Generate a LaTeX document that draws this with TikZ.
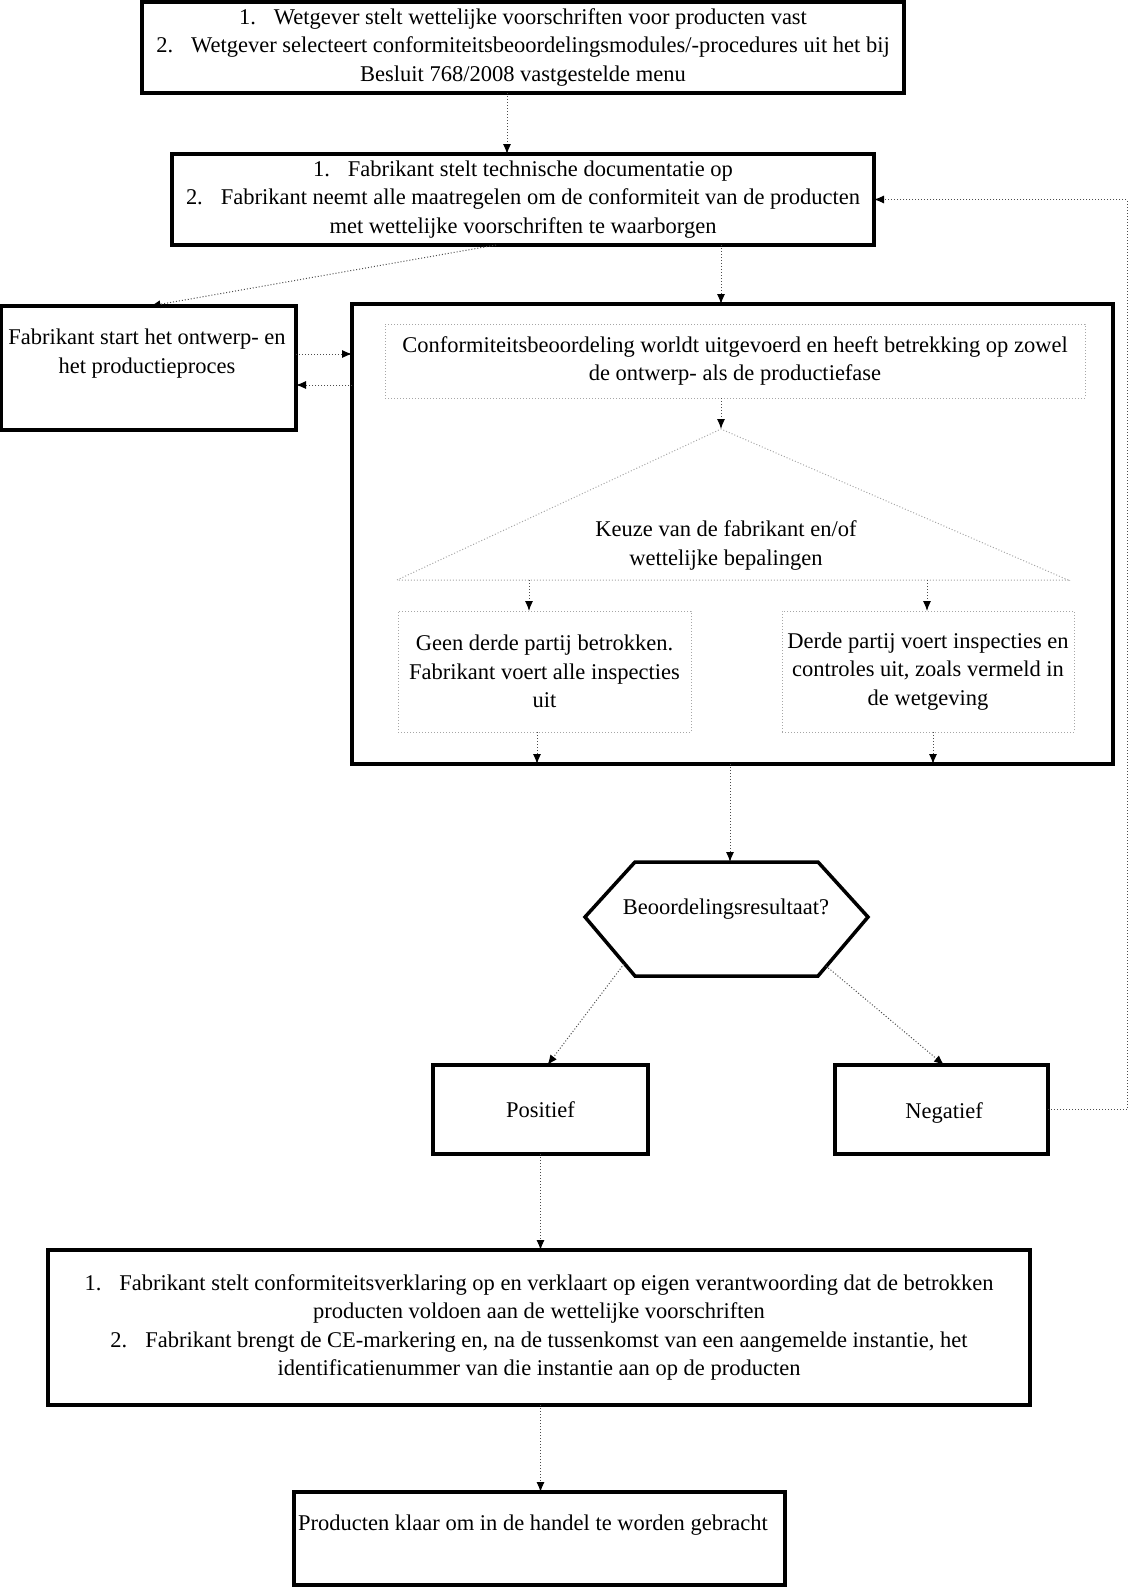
\documentclass[tikz,border=0pt]{standalone}
\usepackage{fontspec}
\setmainfont{Liberation Serif}
\usetikzlibrary{arrows.meta}
\tikzset{
  txt/.style={font=\fontsize{22.5}{28.3}\selectfont, align=center, inner sep=0pt},
  bigbox/.style={draw=black, line width=3.5pt, inner sep=0pt, outer sep=0pt, txt},
  thinbox/.style={draw=gray!70, dotted, line width=1pt, inner sep=0pt, outer sep=0pt, txt},
  thickline/.style={draw=black, line width=3.5pt, line join=miter},
  thinline/.style={draw=gray!70, dotted, line width=1pt},
  conn/.style={draw=gray!60!black, dotted, line width=1pt, -{Latex[length=10pt,width=8pt,black]}}
}
\newcommand{\numgap}{\hspace{18pt}}
\begin{document}
\begin{tikzpicture}[x=1pt,y=-1pt]
\useasboundingbox (0,0) rectangle (1142,1587);
% boxes
\node[bigbox, minimum width=762pt, minimum height=91pt] (box1) at (523,47.5)
  {1.\numgap Wetgever stelt wettelijke voorschriften voor producten vast\\
   2.\numgap Wetgever selecteert conformiteitsbeoordelingsmodules/-procedures uit het bij\\
   Besluit 768/2008 vastgestelde menu};
\node[bigbox, minimum width=702pt, minimum height=91pt] (box2) at (523,199.5)
  {1.\numgap Fabrikant stelt technische documentatie op\\
   2.\numgap Fabrikant neemt alle maatregelen om de conformiteit van de producten\\
   met wettelijke voorschriften te waarborgen};
\node[bigbox, minimum width=295pt, minimum height=124pt] (lbox) at (148.5,368) {};
\node[txt] (lboxtext) at (147,353.5) {Fabrikant start het ontwerp- en\\het productieproces};
\node[bigbox, minimum width=761pt, minimum height=460pt] (cont) at (732.5,534) {};
\node[thinbox, minimum width=700pt, minimum height=74pt] (inner1) at (735,361)
  {Conformiteitsbeoordeling worldt uitgevoerd en heeft betrekking op zowel\\
   de ontwerp- als de productiefase};
% triangle
\coordinate (triapex) at (721,429);
\coordinate (tril) at (397,580);
\coordinate (trir) at (1068,580);
\draw[thinline] (tril) -- (triapex) -- (trir) -- cycle;
\node[txt] (keuze) at (726,545.5) {Keuze van de fabrikant en/of\\wettelijke bepalingen};
\node[thinbox, minimum width=293pt, minimum height=121pt] (innerL) at (544.5,671.5)
  {Geen derde partij betrokken.\\Fabrikant voert alle inspecties\\uit};
\node[thinbox, minimum width=292pt, minimum height=121pt] (innerR) at (928,671.5)
  {Derde partij voert inspecties en\\controles uit, zoals vermeld in\\de wetgeving};
% hexagon
\coordinate (hxl) at (585,917);
\coordinate (hxtl) at (635,862);
\coordinate (hxtr) at (818,862);
\coordinate (hxr) at (868,917);
\coordinate (hxbr) at (818,976);
\coordinate (hxbl) at (635,976);
\coordinate (hxt) at (730,862);
\draw[thickline] (hxl) -- (hxtl) -- (hxtr) -- (hxr) -- (hxbr) -- (hxbl) -- cycle;
\node[txt] (hexlabel) at (726,909) {Beoordelingsresultaat?};
\node[bigbox, minimum width=215pt, minimum height=89pt] (pos) at (540.5,1109.5) {Positief};
\node[bigbox, minimum width=213pt, minimum height=89pt] (neg) at (941.5,1109.5) {};
\node[txt] (negtext) at (944,1113) {Negatief};
\node[bigbox, minimum width=982pt, minimum height=155pt] (box3) at (539,1327.5)
  {1.\numgap Fabrikant stelt conformiteitsverklaring op en verklaart op eigen verantwoording dat de betrokken\\
   producten voldoen aan de wettelijke voorschriften\\
   2.\numgap Fabrikant brengt de CE-markering en, na de tussenkomst van een aangemelde instantie, het\\
   identificatienummer van die instantie aan op de producten};
\node[bigbox, minimum width=491pt, minimum height=93pt] (box4) at (539.5,1538.5) {};
\node[txt] (box4text) at (533,1525) {Producten klaar om in de handel te worden gebracht};
% connectors
\coordinate (ya) at (0,354);
\coordinate (yb) at (0,385);
\coordinate (bl) at (529,580);
\coordinate (br) at (927,580);
\coordinate (hxpl) at (624,964);
\coordinate (hxpr) at (826,966);
\coordinate (rt) at (1127,199.5);
\draw[conn] ([xshift=-16pt]box1.south) -- ([xshift=-16pt]box2.north);
\draw[conn] ([xshift=-27pt]box2.south) -- ([xshift=2pt]lbox.north);
\draw[conn] ([xshift=198pt]box2.south) -- ([xshift=-11.5pt]cont.north);
\draw[conn] (lbox.east |- ya) -- (cont.west |- ya);
\draw[conn] (cont.west |- yb) -- (lbox.east |- yb);
\draw[conn] ([xshift=-14pt]inner1.south) -- (triapex);
\draw[conn] (bl) -- (bl |- innerL.north);
\draw[conn] (br) -- (br |- innerR.north);
\draw[conn] ([xshift=-7.5pt]innerL.south) -- ([xshift=-7.5pt]innerL.south |- cont.south);
\draw[conn] ([xshift=5pt]innerR.south) -- ([xshift=5pt]innerR.south |- cont.south);
\draw[conn] ([xshift=-2.5pt]cont.south) -- (hxt);
\draw[conn] (hxpl) -- ([xshift=7pt]pos.north);
\draw[conn] (hxpr) -- ([xshift=2.5pt]neg.north);
\draw[conn] (pos.south) -- (pos.south |- box3.north);
\draw[conn] ([xshift=1.5pt]box3.south) -- ([xshift=1.5pt]box3.south |- box4.north);
\draw[conn] (neg.east) -| (rt) -- (box2.east);
\end{tikzpicture}
\end{document}
